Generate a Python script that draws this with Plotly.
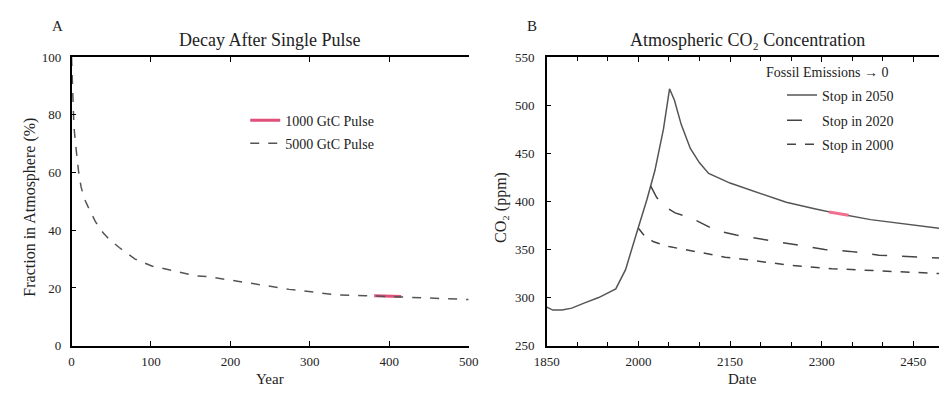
import plotly.graph_objects as go

# ---------------- Panel A data ----------------
pulse_years = [0, 1, 3, 5, 9, 12, 16, 21, 30, 40, 47, 60, 68, 80, 101, 130, 157,
               172, 200, 225, 250, 274, 300, 335, 370, 402, 450, 500]
pulse_fraction = [100, 92, 76, 70, 60, 55, 51, 48, 43, 39, 37, 34, 32.5, 30, 27.6,
                  25.8, 24.2, 23.9, 22.8, 21.6, 20.6, 19.5, 18.6, 17.6, 17.3, 17.0, 16.5, 16.0]
hl_a_years = [381, 398, 415]
hl_a_fraction = [17.3, 17.1, 17.0]
legend_a = ["1000 GtC Pulse", "5000 GtC Pulse"]

# ---------------- Panel B data ----------------
stop2050_years = [1850, 1860, 1875, 1891, 1910, 1935, 1963, 1979, 1998, 2014, 2027, 2041,
                  2051, 2059, 2070, 2085, 2100, 2115, 2150, 2200, 2242, 2290, 2328,
                  2380, 2434, 2492]
stop2050_co2 = [290, 287, 287, 289, 294, 300, 309, 329, 369, 402, 432, 475,
                517, 505, 480, 455, 440, 429, 419, 408, 399, 392, 387,
                381, 377, 372]
stop2020_years = [2020, 2030, 2045, 2060, 2089, 2126, 2160, 2200, 2250, 2305, 2346,
                  2394, 2466, 2492]
stop2020_co2 = [416, 404, 394, 388, 382, 370, 365, 361, 356, 350, 348, 344, 342, 341]
stop2000_years = [2000, 2010, 2025, 2050, 2075, 2100, 2142, 2182, 2242, 2317, 2389,
                  2456, 2492]
stop2000_co2 = [372, 364, 358, 353, 350, 347, 342, 339, 334, 330, 328, 326, 325]
hl_b_years = [2312, 2328, 2344]
hl_b_co2 = [389, 387, 385.5]
legend_b = ["Stop in 2050", "Stop in 2020", "Stop in 2000"]

W, H = 949, 396
serif = "Liberation Serif"


def px(x):
    return x / W


def py(y):
    return 1 - y / H


fig = go.Figure()

# Panel A traces
fig.add_trace(go.Scatter(x=hl_a_years, y=hl_a_fraction, mode="lines", name=legend_a[0],
                         line=dict(color="#e0507a", width=3), xaxis="x", yaxis="y",
                         legend="legend"))
fig.add_trace(go.Scatter(x=pulse_years, y=pulse_fraction, mode="lines", name=legend_a[1],
                         line=dict(color="#555555", width=1.5, dash="dash"),
                         xaxis="x", yaxis="y", legend="legend2"))

# Panel B traces
fig.add_trace(go.Scatter(x=stop2050_years, y=stop2050_co2, mode="lines", name=legend_b[0],
                         line=dict(color="#555555", width=1.5), xaxis="x2", yaxis="y2",
                         legend="legend3"))
fig.add_trace(go.Scatter(x=stop2020_years, y=stop2020_co2, mode="lines", name=legend_b[1],
                         line=dict(color="#444444", width=1.5, dash="longdash"),
                         xaxis="x2", yaxis="y2", legend="legend4"))
fig.add_trace(go.Scatter(x=stop2000_years, y=stop2000_co2, mode="lines", name=legend_b[2],
                         line=dict(color="#444444", width=1.5, dash="dash"),
                         xaxis="x2", yaxis="y2", legend="legend5"))
fig.add_trace(go.Scatter(x=hl_b_years, y=hl_b_co2, mode="lines", showlegend=False,
                         line=dict(color="#f07090", width=3), xaxis="x2", yaxis="y2"))

tickfont = dict(family=serif, size=13, color="#222")
axis_common = dict(showgrid=False, zeroline=False, showline=True, linecolor="black",
                   linewidth=1.5, ticks="inside", ticklen=5, tickcolor="black",
                   tickfont=tickfont)

ytop, ybot = 52, 352
fig.update_layout(
    width=W, height=H,
    margin=dict(l=0, r=0, t=0, b=0),
    paper_bgcolor="white", plot_bgcolor="white",
    font=dict(family=serif, color="#222"),
    xaxis=dict(domain=[px(60), px(467)], range=[0, 500], tickvals=[0, 100, 200, 300, 400, 500],
               mirror="ticks", anchor="y", ticklabelstandoff=3, **axis_common),
    yaxis=dict(domain=[py(ybot), py(ytop)], range=[0, 100], dtick=20, anchor="x",
               ticklabelstandoff=6, **axis_common),
    xaxis2=dict(domain=[px(547), 1.0], range=[1850, 2492],
                tickvals=[1850, 2000, 2150, 2300, 2450], mirror="ticks", anchor="y2",
                ticklabelstandoff=3,
                minor=dict(dtick=50, tick0=1850, ticks="inside", ticklen=4, tickcolor="black"),
                **axis_common),
    yaxis2=dict(domain=[py(ybot), py(ytop)], range=[250, 550], dtick=50, anchor="x2",
                ticklabelstandoff=8, **axis_common),
)

leg_common = dict(bgcolor="rgba(0,0,0,0)", borderwidth=0,
                  font=dict(family=serif, size=14, color="#222"),
                  yanchor="middle")
fig.update_layout(
    legend=dict(x=px(238), y=py(118), xanchor="left", **leg_common),
    legend2=dict(x=px(238), y=py(142), xanchor="left", **leg_common),
    legend3=dict(x=px(908), y=py(92), xanchor="right", **leg_common),
    legend4=dict(x=px(908), y=py(118), xanchor="right", **leg_common),
    legend5=dict(x=px(908), y=py(143), xanchor="right", **leg_common),
)

ann = []


def add_text(x, y, text, size, angle=0, xanchor="center"):
    ann.append(dict(x=px(x), y=py(y), xref="paper", yref="paper", text=text,
                    showarrow=False, textangle=angle, xanchor=xanchor, yanchor="middle",
                    font=dict(family=serif, size=size, color="#222")))


add_text(46, 20, "A", 15)
add_text(532, 20, "B", 15)
add_text(263, 34, "Decay After Single Pulse", 18)
add_text(753, 34, "Atmospheric CO₂ Concentration", 18)
add_text(263, 387, "Year", 15)
add_text(748, 387, "Date", 15)
add_text(18, 208, "Fraction in Atmosphere (%)", 16, angle=-90)
add_text(500, 208, "CO₂ (ppm)", 16, angle=-90)
add_text(900, 68, "Fossil Emissions → 0", 14, xanchor="right")
fig.update_layout(annotations=ann)

fig.write_html("out.html")
